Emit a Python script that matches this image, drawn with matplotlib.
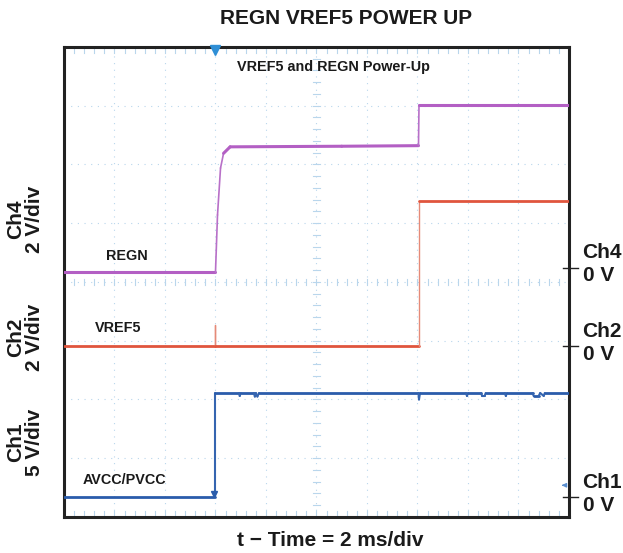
import numpy as np
import matplotlib.pyplot as plt
from matplotlib.collections import LineCollection

plt.rcParams['font.family'] = ['Liberation Sans', 'DejaVu Sans']

# time axis in scope divisions (2 ms/div), 10 divisions across, 8 down
n_xdiv = 10
n_ydiv = 8

# channel zero positions (div from bottom) and scales (V/div)
ch1_zero, ch1_scale = 0.34, 5.0
ch2_zero, ch2_scale = 2.91, 2.0
ch4_zero, ch4_scale = 4.24, 2.0

# Ch4 - REGN (V)
regn_t = [0.0, 3.00, 3.04, 3.10, 3.16, 3.29, 5.50, 7.02, 7.03, 10.0]
regn_v = [-0.15, -0.15, 1.80, 3.40, 3.90, 4.12, 4.14, 4.16, 5.54, 5.54]

# Ch2 - VREF5 (V)
vref_t = [0.0, 3.00, 3.00, 3.00, 7.03, 7.03, 10.0]
vref_v = [0.0, 0.0, 0.72, 0.0, 0.0, 4.95, 4.95]

# Ch1 - AVCC/PVCC (V), with the small glitches on the plateau
avcc_t = [0.0, 3.00, 3.00, 3.47, 3.48, 3.50, 3.76, 3.78, 3.80, 3.83, 3.86,
          7.02, 7.03, 7.05, 7.96, 7.98, 8.00, 8.26, 8.28, 8.33, 8.35,
          8.73, 8.75, 8.77, 9.28, 9.30, 9.40, 9.43, 9.50, 9.52, 10.0]
avcc_v = [0.0, 0.0, 8.85, 8.85, 8.60, 8.85, 8.85, 8.55, 8.85, 8.55, 8.85,
          8.85, 8.30, 8.85, 8.85, 8.60, 8.85, 8.85, 8.60, 8.60, 8.85,
          8.85, 8.60, 8.85, 8.85, 8.60, 8.60, 8.85, 8.60, 8.85, 8.85]

trig_t = 3.0

fig = plt.figure(figsize=(6.23, 5.53), dpi=100)
ax = fig.add_axes([0.1027, 0.0651, 0.8106, 0.85])
ax.set_xlim(0, n_xdiv)
ax.set_ylim(0, n_ydiv)

grid_c = '#b9d6ec'
# dotted graticule
for i in range(1, n_xdiv):
    ax.plot([i, i], [0, n_ydiv], color=grid_c, lw=0.8, ls=(0, (1, 5)), zorder=1)
for j in range(1, n_ydiv):
    ax.plot([0, n_xdiv], [j, j], color=grid_c, lw=0.8, ls=(0, (1, 5)), zorder=1)
# minor ticks on centre lines and edges
minor_x = np.arange(0, n_xdiv + 0.01, 0.2)
minor_y = np.arange(0, n_ydiv + 0.01, 0.2)
for x in minor_x:
    ax.plot([x, x], [n_ydiv / 2 - 0.05, n_ydiv / 2 + 0.05], color=grid_c, lw=0.8, zorder=1)
    ax.plot([x, x], [n_ydiv - 0.1, n_ydiv], color=grid_c, lw=0.8, zorder=1)
    ax.plot([x, x], [0, 0.1], color=grid_c, lw=0.8, zorder=1)
for y in minor_y:
    ax.plot([n_xdiv / 2 - 0.06, n_xdiv / 2 + 0.06], [y, y], color=grid_c, lw=0.8, zorder=1)


def draw_trace(t, v, zero, scale, color, edge_color, lw=2.2, edge_lw=1.2):
    # fast edges come out thin on the scope, flat parts thick
    y = [zero + val / scale for val in v]
    pts = np.column_stack([t, y])
    segs = np.stack([pts[:-1], pts[1:]], axis=1)
    dx = np.abs(np.diff(t))
    fast = dx < 0.08
    widths = np.where(fast, edge_lw, lw)
    colors = [edge_color if f else color for f in fast]
    ax.add_collection(LineCollection(segs, linewidths=widths, colors=colors,
                                     capstyle='round', zorder=3))


draw_trace(regn_t, regn_v, ch4_zero, ch4_scale, '#b35fc4', '#b870c8')
draw_trace(vref_t, vref_v, ch2_zero, ch2_scale, '#e0553d', '#e58a78', lw=2.0, edge_lw=1.0)
draw_trace(avcc_t, avcc_v, ch1_zero, ch1_scale, '#2a5cab', '#3565b0', lw=2.0, edge_lw=1.5)

# trigger marker and channel pointer
ax.plot([trig_t], [n_ydiv - 0.06], marker='v', color='#2f8fd6', ms=7, zorder=4, clip_on=False)
ax.plot([trig_t - 0.03], [ch1_zero + 0.05], marker='v', color='#2a5cab', ms=5, zorder=4)
ax.annotate('', xy=(9.8, ch1_zero + 0.2), xytext=(9.95, ch1_zero + 0.2),
            arrowprops=dict(arrowstyle='-|>', color='#5b8fd0', lw=1, mutation_scale=6))

for s in ax.spines.values():
    s.set_linewidth(2.2)
    s.set_color('#222222')
ax.set_xticks([])
ax.set_yticks([])

# zero markers on right edge
for z in (ch4_zero, ch2_zero, ch1_zero):
    ax.plot([n_xdiv - 0.12, n_xdiv + 0.18], [z, z], color='#222222', lw=1.0, clip_on=False, zorder=5)

tb = dict(fontweight='bold', color='#1a1a1a')
ax.text(5.33, 7.66, 'VREF5 and REGN Power-Up', ha='center', va='center', fontsize=10.4, **tb)
ax.text(1.25, ch4_zero + 0.2, 'REGN', ha='center', va='center', fontsize=10.4, **tb)
ax.text(1.07, ch2_zero + 0.3, 'VREF5', ha='center', va='center', fontsize=10.4, **tb)
ax.text(1.19, ch1_zero + 0.29, 'AVCC/PVCC', ha='center', va='center', fontsize=10.4, **tb)

for z, name in ((ch4_zero, 'Ch4'), (ch2_zero, 'Ch2'), (ch1_zero, 'Ch1')):
    ax.text(n_xdiv + 0.27, z + 0.16, name, ha='left', va='baseline', fontsize=15, **tb)
    ax.text(n_xdiv + 0.27, z - 0.23, '0 V', ha='left', va='baseline', fontsize=15, **tb)

for yc, name, sc in ((5.06, 'Ch4', '2 V/div'), (3.06, 'Ch2', '2 V/div'), (1.27, 'Ch1', '5 V/div')):
    ax.text(-0.77, yc, name + '\n' + sc, ha='center', va='center', rotation=90,
            fontsize=15, linespacing=1.0, **tb)

fig.text(0.555, 0.967, 'REGN VREF5 POWER UP', ha='center', va='center', fontsize=15, **tb)
fig.text(0.53, 0.022, 't \u2212 Time = 2 ms/div', ha='center', va='center', fontsize=15, **tb)

fig.savefig('out.png', dpi=100)
